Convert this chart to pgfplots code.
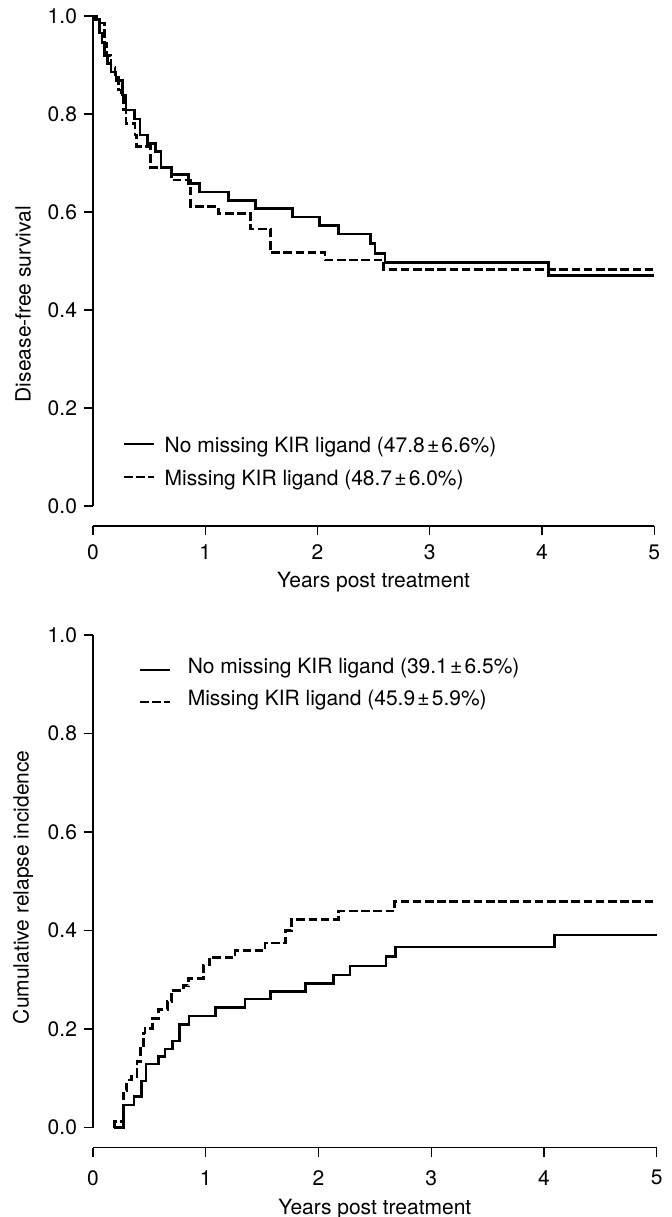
\documentclass[border=0pt]{standalone}
\usepackage{fontspec}
\setmainfont{TeX Gyre Heros}
\usepackage{pgfplots}
\pgfplotsset{compat=1.18}

% data (time in years, value)
\pgfplotstableread{
t v
0     1.000
0.02  0.993
0.06  0.965
0.08  0.945
0.10  0.920
0.13  0.903
0.16  0.886
0.205 0.869
0.26  0.839
0.294 0.808
0.368 0.790
0.418 0.757
0.484 0.740
0.558 0.723
0.605 0.691
0.70  0.676
0.849 0.658
0.947 0.641
1.205 0.624
1.449 0.607
1.778 0.590
2.02  0.573
2.19  0.555
2.473 0.535
2.511 0.516
2.60  0.497
4.06  0.471
5.00  0.471
}\dfsno
\pgfplotstableread{
t v
0     1.000
0.03  0.986
0.10  0.944
0.12  0.920
0.16  0.895
0.196 0.880
0.225 0.849
0.255 0.835
0.27  0.808
0.294 0.781
0.374 0.757
0.39  0.733
0.51  0.691
0.70  0.665
0.87  0.611
1.116 0.597
1.404 0.565
1.582 0.517
2.066 0.502
2.59  0.483
5.00  0.483
}\dfsmiss
\pgfplotstableread{
t v
0.19  0.000
0.27  0.046
0.364 0.063
0.432 0.095
0.47  0.129
0.58  0.144
0.639 0.160
0.707 0.176
0.766 0.210
0.852 0.227
1.089 0.244
1.349 0.261
1.577 0.276
1.887 0.292
2.133 0.310
2.28  0.328
2.60  0.348
2.686 0.367
4.093 0.391
5.00  0.391
}\relno
\pgfplotstableread{
t v
0.19  0.000
0.19  0.013
0.27  0.076
0.30  0.097
0.34  0.104
0.39  0.134
0.423 0.161
0.447 0.192
0.46  0.202
0.53  0.222
0.58  0.240
0.66  0.256
0.698 0.279
0.80  0.288
0.846 0.303
0.979 0.330
1.032 0.346
1.26  0.359
1.526 0.375
1.71  0.400
1.763 0.423
2.177 0.440
2.674 0.459
5.00  0.459
}\relmiss

\newcommand\plusmin{\kern1.1pt±\kern1.1pt}

\pgfplotsset{
  km/.style={
    scale only axis,
    xmin=0, xmax=5, ymax=1,
    axis lines*=left,
    axis line style={draw=none},
    tick align=outside,
    major tick length=4.5pt,
    tick style={black, line width=0.7pt},
    xtick={0,1,2,3,4,5},
    xticklabels={0,1,2,3,4,5},
    ytick={0,0.2,0.4,0.6,0.8,1.0},
    yticklabels={0.0,0.2,0.4,0.6,0.8,1.0},
    tick label style={font=\fontsize{10.5}{12}\selectfont},
    label style={font=\fontsize{10.5}{12}\selectfont},
    xlabel={Years post treatment},
    clip=false,
  },
  nomiss/.style={black, line width=1.35pt, const plot},
  miss/.style={black, line width=1.35pt, const plot, dash pattern=on 4.3pt off 1.8pt},
}
\tikzset{keytext/.style={anchor=base west, inner sep=0pt, font=\fontsize{10.5}{12}\selectfont}}

\begin{document}
\begin{tikzpicture}
\useasboundingbox (0,0) rectangle (336pt,608.5pt);

% top panel: disease-free survival
\begin{axis}[km,
  at={(46.5pt,345.5pt)}, anchor=south west,
  width=280.65pt, height=255pt,
  ymin=-0.0408,
  xticklabel shift=1.5pt,
  xlabel style={at={(axis description cs:0.5,0)}, anchor=center, yshift=-28.3pt},
  ylabel={Disease-free survival},
  ylabel style={at={(axis description cs:-0.1247,0.435)}, anchor=center},
]
\draw[line width=0.7pt] (axis cs:0,0) -- (axis cs:0,1);
\draw[line width=0.7pt] (rel axis cs:0,0) -- (rel axis cs:1,0);
\addplot[nomiss] table[x=t, y=v] {\dfsno};
\addplot[miss] table[x=t, y=v] {\dfsmiss};
% key
\draw[black, line width=1.35pt] (axis cs:0.276,0.1265) -- (axis cs:0.543,0.1265);
\draw[black, line width=1.35pt, dash pattern=on 4.3pt off 1.8pt] (axis cs:0.276,0.0592) -- (axis cs:0.543,0.0592);
\node[keytext] at (axis cs:0.635,0.1096) {No missing KIR ligand (47.8\plusmin 6.6\%)};
\node[keytext] at (axis cs:0.635,0.0422) {Missing KIR ligand (48.7\plusmin 6.0\%)};
\end{axis}

% bottom panel: cumulative relapse incidence
\begin{axis}[km,
  at={(46.5pt,34.65pt)}, anchor=south west,
  width=281.85pt, height=256.35pt,
  ymin=-0.0406,
  xticklabel shift=3.3pt,
  xlabel style={at={(axis description cs:0.5,0)}, anchor=center, yshift=-30.5pt},
  ylabel={Cumulative relapse incidence},
  ylabel style={at={(axis description cs:-0.1242,0.508)}, anchor=center},
]
\draw[line width=0.7pt] (axis cs:0,0) -- (axis cs:0,1);
\draw[line width=0.7pt] (rel axis cs:0,0) -- (rel axis cs:1,0);
\addplot[nomiss] table[x=t, y=v] {\relno};
\addplot[miss] table[x=t, y=v] {\relmiss};
% key
\draw[black, line width=1.35pt] (axis cs:0.417,0.929) -- (axis cs:0.683,0.929);
\draw[black, line width=1.35pt, dash pattern=on 4.3pt off 1.8pt] (axis cs:0.417,0.864) -- (axis cs:0.683,0.864);
\node[keytext] at (axis cs:0.837,0.9209) {No missing KIR ligand (39.1\plusmin 6.5\%)};
\node[keytext] at (axis cs:0.837,0.8559) {Missing KIR ligand (45.9\plusmin 5.9\%)};
\end{axis}
\end{tikzpicture}
\end{document}
